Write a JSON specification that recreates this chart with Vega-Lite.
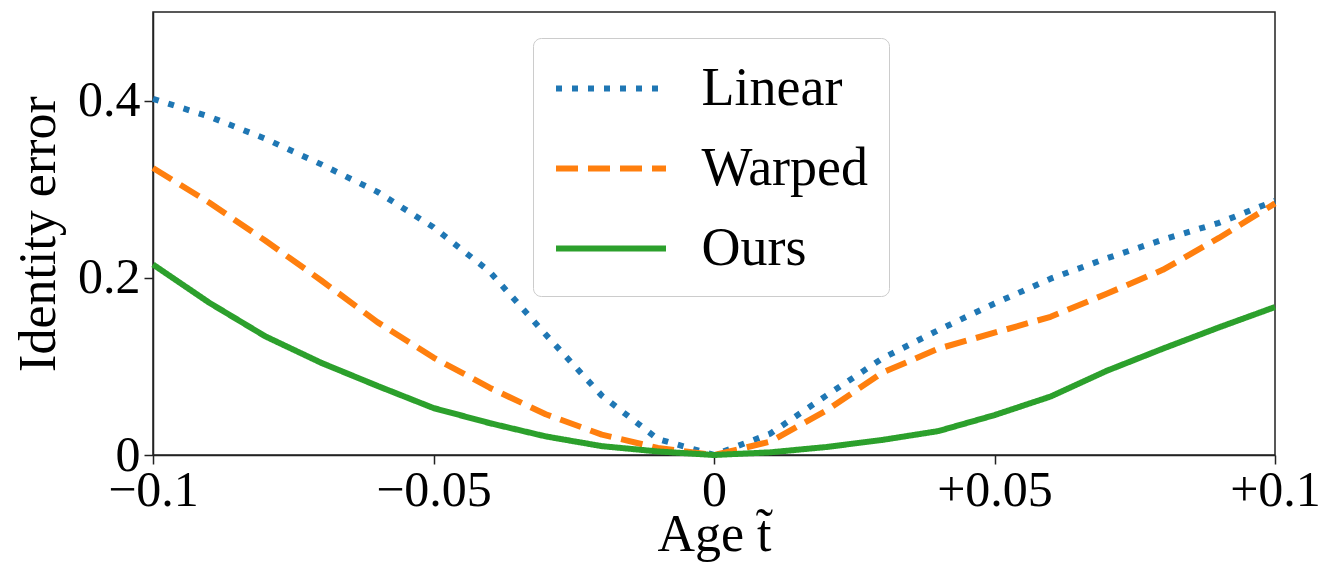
{
  "$schema": "https://vega.github.io/schema/vega-lite/v6.json",
  "autosize": {"type": "none"},
  "padding": {"left": 153, "top": 12, "right": 52, "bottom": 110},
  "width": 1122,
  "height": 443,
  "background": "white",
  "config": {
    "font": "Liberation Serif",
    "view": {"stroke": "#222", "strokeWidth": 1.5},
    "axis": {"grid": false, "labelFlush": false, "labelOverlap": false, "domainColor": "#222", "domainWidth": 1.5, "tickColor": "#222", "tickWidth": 1.5, "tickSize": 9, "labelFont": "Liberation Serif", "titleFont": "Liberation Serif", "labelFontSize": 50, "titleFontSize": 52, "labelColor": "black", "titleColor": "black", "titleFontWeight": "normal"},
    "legend": {"title": null, "orient": "none", "legendX": 380, "legendY": 26, "symbolType": "M-2,0H2", "symbolSize": 3025, "symbolOffset": 27.5, "symbolStrokeWidth": 6, "labelFontSize": 54, "labelFont": "Liberation Serif", "labelColor": "black", "labelOffset": 60, "rowPadding": 22, "padding": 20, "strokeColor": "#cccccc", "fillColor": "white", "cornerRadius": 8, "labelLimit": 400}
  },
  "data": {"values": [
    {"t": -0.10, "method": "Linear", "err": 0.402},
    {"t": -0.09, "method": "Linear", "err": 0.382},
    {"t": -0.08, "method": "Linear", "err": 0.357},
    {"t": -0.07, "method": "Linear", "err": 0.328},
    {"t": -0.06, "method": "Linear", "err": 0.297},
    {"t": -0.05, "method": "Linear", "err": 0.257},
    {"t": -0.04, "method": "Linear", "err": 0.207},
    {"t": -0.03, "method": "Linear", "err": 0.136},
    {"t": -0.02, "method": "Linear", "err": 0.067},
    {"t": -0.01, "method": "Linear", "err": 0.018},
    {"t": 0.00, "method": "Linear", "err": 0.0},
    {"t": 0.01, "method": "Linear", "err": 0.024},
    {"t": 0.02, "method": "Linear", "err": 0.067},
    {"t": 0.03, "method": "Linear", "err": 0.109},
    {"t": 0.04, "method": "Linear", "err": 0.141},
    {"t": 0.05, "method": "Linear", "err": 0.171},
    {"t": 0.06, "method": "Linear", "err": 0.199},
    {"t": 0.07, "method": "Linear", "err": 0.222},
    {"t": 0.08, "method": "Linear", "err": 0.243},
    {"t": 0.09, "method": "Linear", "err": 0.262},
    {"t": 0.10, "method": "Linear", "err": 0.287},
    {"t": -0.10, "method": "Warped", "err": 0.324},
    {"t": -0.09, "method": "Warped", "err": 0.285},
    {"t": -0.08, "method": "Warped", "err": 0.242},
    {"t": -0.07, "method": "Warped", "err": 0.197},
    {"t": -0.06, "method": "Warped", "err": 0.150},
    {"t": -0.05, "method": "Warped", "err": 0.110},
    {"t": -0.04, "method": "Warped", "err": 0.076},
    {"t": -0.03, "method": "Warped", "err": 0.046},
    {"t": -0.02, "method": "Warped", "err": 0.023},
    {"t": -0.01, "method": "Warped", "err": 0.008},
    {"t": 0.00, "method": "Warped", "err": 0.0},
    {"t": 0.01, "method": "Warped", "err": 0.015},
    {"t": 0.02, "method": "Warped", "err": 0.050},
    {"t": 0.03, "method": "Warped", "err": 0.093},
    {"t": 0.04, "method": "Warped", "err": 0.120},
    {"t": 0.05, "method": "Warped", "err": 0.138},
    {"t": 0.06, "method": "Warped", "err": 0.156},
    {"t": 0.07, "method": "Warped", "err": 0.182},
    {"t": 0.08, "method": "Warped", "err": 0.209},
    {"t": 0.09, "method": "Warped", "err": 0.245},
    {"t": 0.10, "method": "Warped", "err": 0.284},
    {"t": -0.10, "method": "Ours", "err": 0.215},
    {"t": -0.09, "method": "Ours", "err": 0.172},
    {"t": -0.08, "method": "Ours", "err": 0.134},
    {"t": -0.07, "method": "Ours", "err": 0.104},
    {"t": -0.06, "method": "Ours", "err": 0.078},
    {"t": -0.05, "method": "Ours", "err": 0.053},
    {"t": -0.04, "method": "Ours", "err": 0.036},
    {"t": -0.03, "method": "Ours", "err": 0.021},
    {"t": -0.02, "method": "Ours", "err": 0.010},
    {"t": -0.01, "method": "Ours", "err": 0.004},
    {"t": 0.00, "method": "Ours", "err": 0.0},
    {"t": 0.01, "method": "Ours", "err": 0.003},
    {"t": 0.02, "method": "Ours", "err": 0.009},
    {"t": 0.03, "method": "Ours", "err": 0.017},
    {"t": 0.04, "method": "Ours", "err": 0.027},
    {"t": 0.05, "method": "Ours", "err": 0.045},
    {"t": 0.06, "method": "Ours", "err": 0.066},
    {"t": 0.07, "method": "Ours", "err": 0.095},
    {"t": 0.08, "method": "Ours", "err": 0.120},
    {"t": 0.09, "method": "Ours", "err": 0.144},
    {"t": 0.10, "method": "Ours", "err": 0.167}
  ]},
  "mark": {"type": "line", "strokeWidth": 6, "strokeCap": "butt", "strokeJoin": "round"},
  "encoding": {
    "x": {"field": "t", "type": "quantitative", "scale": {"domain": [-0.1, 0.1], "nice": false, "zero": false},
      "axis": {"values": [-0.1, -0.05, 0, 0.05, 0.1], "labelPadding": 1, "title": "Age t̃", "titlePadding": -6,
        "labelExpr": "datum.value > 0 ? '+' + format(datum.value, '') : (datum.value < 0 ? '−' + format(-datum.value, '') : '0')"}},
    "y": {"field": "err", "type": "quantitative", "scale": {"domain": [0, 0.5], "nice": false},
      "axis": {"values": [0, 0.2, 0.4], "labelPadding": 4, "title": "Identity error", "titlePadding": 12,
        "labelExpr": "datum.value == 0 ? '0' : format(datum.value, '')"}},
    "color": {"field": "method", "type": "nominal",
      "scale": {"domain": ["Linear", "Warped", "Ours"], "range": ["#1f77b4", "#ff7f0e", "#2ca02c"]},
      "legend": {}},
    "strokeDash": {"field": "method", "type": "nominal",
      "scale": {"domain": ["Linear", "Warped", "Ours"], "range": [[6, 10], [22, 10], [1, 0]]},
      "legend": {}}
  }
}
